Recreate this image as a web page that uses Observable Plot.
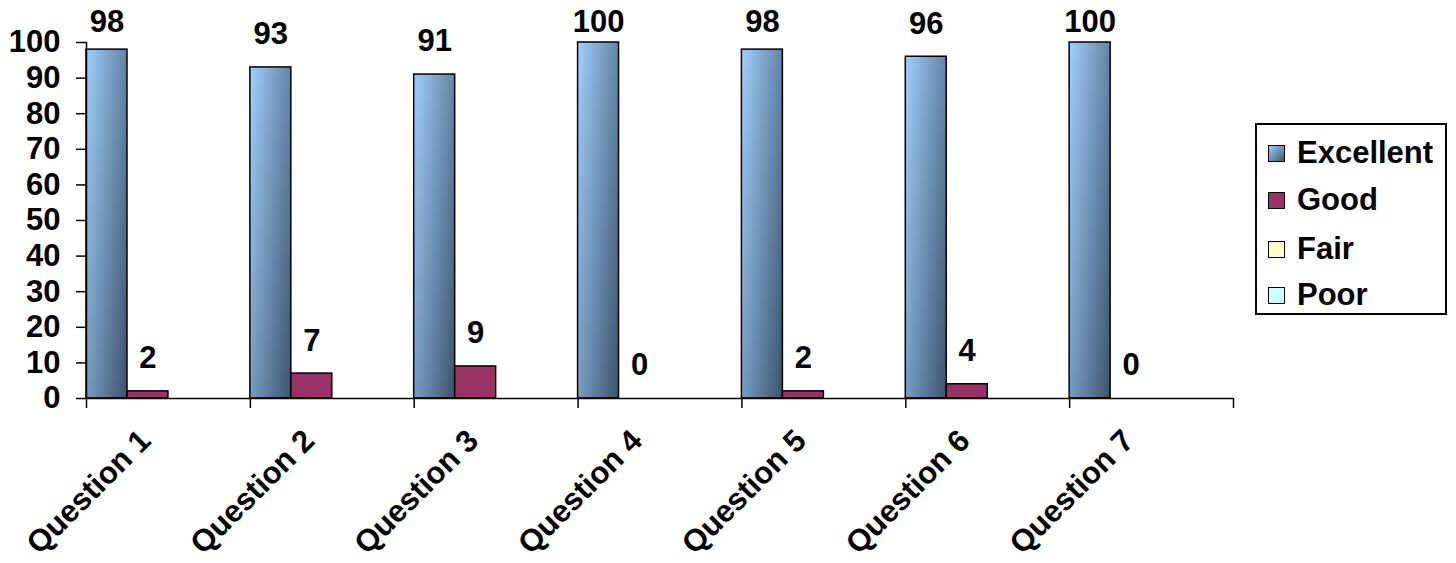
<!DOCTYPE html>
<html>
<head>
<meta charset="utf-8">
<script src="https://cdn.jsdelivr.net/npm/d3@7"></script>
<script src="https://cdn.jsdelivr.net/npm/@observablehq/plot@0.6"></script>
<style>
  html, body { margin: 0; padding: 0; background: #fff; }
  #wrap { position: relative; width: 1456px; height: 563px; font-family: "Liberation Sans", Arial, sans-serif; font-weight: bold; }
  #legend { position: absolute; left: 1255px; top: 123px; width: 188px; height: 188px; border: 2px solid #000; box-sizing: content-box; }
  .row { position: absolute; left: 11px; height: 34px; display: flex; align-items: center; font-size: 31px; color: #000; }
  .sw { width: 15px; height: 15px; border: 1.5px solid #000; margin-right: 12px; }
</style>
</head>
<body>
<div id="wrap"><div id="chart"></div><div id="legend"></div></div>
<script>
const questions = ["Question 1","Question 2","Question 3","Question 4","Question 5","Question 6","Question 7"];
const series = ["Excellent","Good","Fair","Poor"];
const excellent = [98, 93, 91, 100, 98, 96, 100];
const good = [2, 7, 9, 0, 2, 4, 0];
const fair = [0, 0, 0, 0, 0, 0, 0];
const poor = [0, 0, 0, 0, 0, 0, 0];
const yTicks = [0,10,20,30,40,50,60,70,80,90,100];
const labelledSeries = ["Excellent","Good"];
const colors = ["url(#exGrad)", "#993366", "#FFFFCC", "#CCFFFF"];
const legendSwatch = ["linear-gradient(135deg, #9ecdfc, #3e5770)", "#993366", "#FFFFCC", "#CCFFFF"];

const valuesBySeries = {Excellent: excellent, Good: good, Fair: fair, Poor: poor};
const rows = [];
questions.forEach((q, i) => series.forEach(s => rows.push({question: q, series: s, value: valuesBySeries[s][i]})));

const W = 1456, H = 563, mL = 86, mR = 223, mT = 42, mB = 165;
const bw = (W - mL - mR) / questions.length / series.length;
const FS = 31;

const plot = Plot.plot({
  width: W, height: H,
  marginLeft: mL, marginRight: mR, marginTop: mT, marginBottom: mB,
  style: {fontFamily: "'Liberation Sans', Arial, sans-serif", fontSize: FS + "px", fontWeight: "bold", color: "#000", background: "#fff", overflow: "visible"},
  fx: {domain: questions, padding: 0, round: false, axis: null},
  x: {domain: series, padding: 0, round: false, axis: null},
  y: {domain: [0, 100], axis: null},
  color: {domain: series, range: colors},
  marks: [
    Plot.barY(rows, {fx: "question", x: "series", y: "value", fill: "series", stroke: "#000", strokeWidth: 1.5, filter: d => d.value > 0}),
    Plot.ruleY([0], {stroke: "#000", strokeWidth: 1.5}),
    Plot.ruleX(questions, {fx: d => d, x: () => series[0], dx: -bw / 2, y1: 0, y2: -2.8, stroke: "#000", strokeWidth: 1.5}),
    Plot.ruleX(questions.slice(-1), {fx: d => d, x: () => series[series.length - 1], dx: bw / 2, y1: 0, y2: -2.8, stroke: "#000", strokeWidth: 1.5}),
    Plot.ruleX(questions.slice(0, 1), {fx: d => d, x: () => series[0], dx: -bw / 2, y1: 0, y2: 100, stroke: "#000", strokeWidth: 1.5}),
    Plot.axisY({ticks: yTicks, label: null, tickSize: 10, tickPadding: 16, tickFormat: d => String(d), strokeWidth: 1.5, fontSize: FS}),
    Plot.text(rows.filter(d => labelledSeries.includes(d.series)), {fx: "question", x: "series", y: d => Math.min(d.value, 96.5), text: d => String(d.value), dy: -33, lineAnchor: "middle", fontSize: FS}),
    Plot.text(questions, {fx: d => d, text: d => d, frameAnchor: "bottom", rotate: -45, textAnchor: "end", lineAnchor: "middle", dx: -23, dy: 37, fontSize: FS})
  ]
});

const svg = d3.select(plot);
const defs = svg.insert("defs", ":first-child");
const g = defs.append("linearGradient").attr("id", "exGrad")
  .attr("x1", 0).attr("y1", 0).attr("x2", 1.154).attr("y2", 0.769);
g.append("stop").attr("offset", "0%").attr("stop-color", "#a0cffd");
g.append("stop").attr("offset", "100%").attr("stop-color", "#3c536b");

document.getElementById("chart").appendChild(plot);

const legend = document.getElementById("legend");
const rowTops = [11, 58, 107, 153];
series.forEach((s, i) => {
  const r = document.createElement("div");
  r.className = "row";
  r.style.top = rowTops[i] + "px";
  const sw = document.createElement("div");
  sw.className = "sw";
  sw.style.background = legendSwatch[i];
  r.appendChild(sw);
  r.appendChild(document.createTextNode(s));
  legend.appendChild(r);
});
</script>
</body>
</html>
